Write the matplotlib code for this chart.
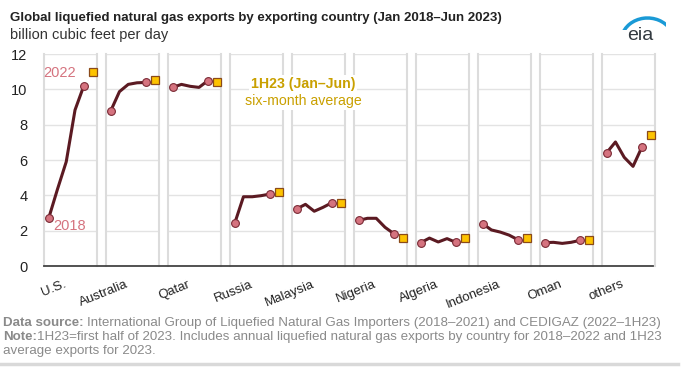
import matplotlib
matplotlib.use("Agg")
import matplotlib.pyplot as plt
import numpy as np
from matplotlib.patches import Arc

plt.rcParams['font.family'] = ['Liberation Sans', 'DejaVu Sans']

countries = ["U.S.", "Australia", "Qatar", "Russia", "Malaysia", "Nigeria",
             "Algeria", "Indonesia", "Oman", "others"]
years = [2018, 2019, 2020, 2021, 2022]
half_year_x = 2023
annual = {
    "U.S.":      [2.70, 4.34, 5.90, 8.83, 10.20],
    "Australia": [8.77, 9.87, 10.28, 10.37, 10.39],
    "Qatar":     [10.11, 10.28, 10.17, 10.11, 10.49],
    "Russia":    [2.41, 3.92, 3.92, 3.98, 4.07],
    "Malaysia":  [3.23, 3.49, 3.10, 3.32, 3.58],
    "Nigeria":   [2.58, 2.70, 2.70, 2.19, 1.83],
    "Algeria":   [1.32, 1.58, 1.36, 1.55, 1.34],
    "Indonesia": [2.39, 2.04, 1.92, 1.75, 1.49],
    "Oman":      [1.32, 1.34, 1.28, 1.34, 1.45],
    "others":    [6.41, 7.02, 6.15, 5.64, 6.72],
}
h1_2023 = [11.00, 10.54, 10.41, 4.17, 3.58, 1.60, 1.60, 1.60, 1.49, 7.40]
yticks = [0, 2, 4, 6, 8, 10, 12]

W, H = 685, 368
fig = plt.figure(figsize=(W / 100, H / 100), dpi=100)

left, right = 44 / W, 655 / W
bottom, top = 1 - 266 / H, 1 - 54 / H
axes = fig.subplots(1, 10, sharey=True,
                    gridspec_kw=dict(left=left, right=right, bottom=bottom,
                                     top=top, wspace=0.17))

line_c = "#5b1a22"
pt_c = "#d5737f"
sq_c = "#fdc300"
sq_e = "#8a4a1a"
grid_c = "#e3e3e3"

for i, (ax, c) in enumerate(zip(axes, countries)):
    vals = annual[c]
    ax.plot(years, vals, color=line_c, lw=2.2, zorder=3, solid_capstyle='round')
    ax.plot([years[0], years[-1]], [vals[0], vals[-1]], 'o', ms=5.6,
            mfc=pt_c, mec="#7a2a35", mew=0.8, zorder=4, clip_on=False)
    ax.plot([half_year_x], [h1_2023[i]], 's', ms=5.6, mfc=sq_c, mec=sq_e,
            mew=0.9, zorder=4, clip_on=False)
    ax.set_xlim(2017.47, 2023.5)
    ax.set_ylim(0, 12)
    ax.set_yticks(yticks)
    ax.grid(axis='y', color=grid_c, lw=1.0)
    ax.set_axisbelow(True)
    ax.set_xticks([])
    for s in ['left', 'right']:
        ax.spines[s].set_color("#dcdcdc")
        ax.spines[s].set_linewidth(1.5)
    ax.spines['top'].set_visible(False)
    ax.spines['bottom'].set_visible(False)
    ax.tick_params(axis='y', length=0, labelsize=10.5, colors="#222222", pad=12)
    if i > 0:
        ax.tick_params(axis='y', labelleft=False)
    # country label
    ax.text(2019.7, -0.7, c, rotation=22, rotation_mode='anchor',
            ha='right', va='top', fontsize=9.5, color="#222222",
            transform=ax.transData, clip_on=False)

# year annotations on U.S. panel
axes[0].text(2017.4, 10.95, "2022", color=pt_c, fontsize=10.5, ha='left', va='center')
axes[0].text(2018.5, 2.25, "2018", color=pt_c, fontsize=10.5, ha='left', va='center')

# 1H23 annotation
fig.text(303 / W, 1 - 84 / H, "1H23 (Jan\u2013Jun)", color="#c9a000", fontsize=10.2,
         fontweight='bold', ha='center', va='center',
         bbox=dict(facecolor='white', edgecolor='none', pad=1.5))
fig.text(303 / W, 1 - 101 / H, "six-month average", color="#c9a000", fontsize=10.2,
         ha='center', va='center',
         bbox=dict(facecolor='white', edgecolor='none', pad=1.5))

# continuous baseline
fig.add_artist(plt.Line2D([44 / W, 653 / W], [bottom, bottom], color="#444444", lw=1.3))

# title
fig.text(10 / W, 1 - 18 / H, "Global liquefied natural gas exports by exporting country (Jan 2018\u2013Jun 2023)",
         fontsize=9.5, fontweight='bold', color="#222222", ha='left', va='center')
fig.text(10 / W, 1 - 35 / H, "billion cubic feet per day", fontsize=10.5,
         color="#333333", ha='left', va='center')

# eia logo
fig.text(640 / W, 1 - 36 / H, "eia", fontsize=14, color="#333a40", ha='center',
         va='center')
logo_ax = fig.add_axes([622 / W, 1 - 30 / H, 44 / W, 16 / H])
logo_ax.set_xlim(0, 1)
logo_ax.set_ylim(0, 1)
logo_ax.axis('off')
logo_ax.add_patch(Arc((0.58, -0.7), 1.2, 2.9, theta1=55, theta2=150,
                      color="#1a9ad6", lw=2.5))

# footer
gray = "#8a8a8a"
fs = 9.6
fig.canvas.draw()
renderer = fig.canvas.get_renderer()


def two_part(y_px, bold, normal):
    t = fig.text(3 / W, 1 - y_px / H, bold, fontsize=fs, fontweight='bold',
                 color=gray, ha='left', va='center')
    bb = t.get_window_extent(renderer=renderer)
    fig.text(bb.x1 / W, 1 - y_px / H, normal, fontsize=fs, color=gray,
             ha='left', va='center')


two_part(323, "Data source: ",
         "International Group of Liquefied Natural Gas Importers (2018\u20132021) and CEDIGAZ (2022\u20131H23)")
two_part(337, "Note:",
         "1H23=first half of 2023. Includes annual liquefied natural gas exports by country for 2018\u20132022 and 1H23")
fig.text(3 / W, 1 - 351 / H, "average exports for 2023.", fontsize=fs,
         color=gray, ha='left', va='center')
fig.add_artist(plt.Line2D([0, 678 / W], [1 - 364 / H, 1 - 364 / H],
                          color="#d9d9d9", lw=2.5))

fig.savefig("out.png", dpi=100, facecolor="white")
